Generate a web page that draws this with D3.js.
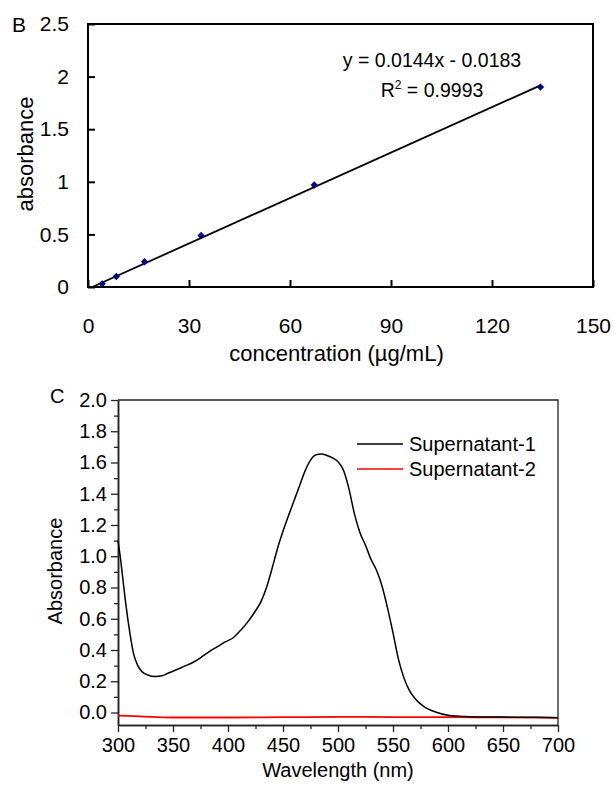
<!DOCTYPE html>
<html>
<head>
<meta charset="utf-8">
<script src="https://cdn.jsdelivr.net/npm/d3@7"></script>
<style>
  body { margin: 0; background: #fff; }
  text { font-family: "Liberation Sans", Arial, sans-serif; fill: #000; }
</style>
</head>
<body>
<div id="chart"></div>
<script>
// ---- panel B data: calibration curve ----
var concentration = [4.2, 8.4, 16.8, 33.6, 67.2, 134.4];
var absorbance = [0.03, 0.10, 0.24, 0.49, 0.97, 1.90];
var fitSlope = 0.0144;
var fitIntercept = -0.0183;
var bTicksX = [0, 30, 60, 90, 120, 150];
var bTicksY = [0, 0.5, 1, 1.5, 2, 2.5];

// ---- panel C data: spectra ----
var wavelength1 = [300, 302, 304, 307, 311, 314, 318, 322, 327, 334, 340, 345, 352, 360, 368, 375, 383, 390, 397, 405,
  412, 418, 424, 430, 435, 440, 445, 450, 455, 460, 465, 470, 475, 480, 485, 490, 495, 500, 505, 510,
  515, 520, 525, 530, 535, 540, 545, 550, 555, 560, 565, 570, 575, 580, 590, 600, 610, 620, 640, 660, 680, 700];
var supernatant1 = [1.10, 1.00, 0.88, 0.70, 0.50, 0.38, 0.30, 0.26, 0.24, 0.23, 0.235, 0.25, 0.27, 0.295, 0.32, 0.35, 0.39, 0.42, 0.45, 0.48,
  0.53, 0.58, 0.64, 0.71, 0.80, 0.92, 1.05, 1.16, 1.26, 1.355, 1.45, 1.545, 1.615, 1.65, 1.655, 1.645, 1.63, 1.605, 1.55, 1.43,
  1.27, 1.15, 1.07, 0.98, 0.91, 0.81, 0.67, 0.51, 0.34, 0.22, 0.14, 0.09, 0.055, 0.03, 0.0, -0.018, -0.024, -0.027, -0.029, -0.03, -0.031, -0.033];
var wavelength2 = [300, 320, 350, 400, 450, 500, 550, 600, 650, 700];
var supernatant2 = [-0.02, -0.025, -0.032, -0.032, -0.03, -0.028, -0.029, -0.03, -0.031, -0.034];
var cTicksX = [300, 350, 400, 450, 500, 550, 600, 650, 700];
var cMinorX = [325, 375, 425, 475, 525, 575, 625, 675];
var cTicksY = [0, 0.2, 0.4, 0.6, 0.8, 1.0, 1.2, 1.4, 1.6, 1.8, 2.0];
var cMinorY = [0.1, 0.3, 0.5, 0.7, 0.9, 1.1, 1.3, 1.5, 1.7, 1.9];
var seriesNames = ["Supernatant-1", "Supernatant-2"];
var seriesColors = ["#000000", "#ff0000"];

var svg = d3.select("#chart").append("svg")
  .attr("width", 614)
  .attr("height", 785);

// ================= panel B =================
var b = {left: 88, right: 593, top: 24, bottom: 287};
var xB = d3.scaleLinear().domain([0, 150]).range([b.left, b.right]);
var yB = d3.scaleLinear().domain([0, 2.5]).range([b.bottom, b.top]);

var gB = svg.append("g");

var xAxisB = gB.append("g")
  .attr("transform", "translate(0," + b.bottom + ")")
  .call(d3.axisBottom(xB).tickValues(bTicksX).tickSize(-7).tickSizeOuter(0).tickPadding(31)
    .tickFormat(d3.format("d")));
var yAxisB = gB.append("g")
  .attr("transform", "translate(" + b.left + ",0)")
  .call(d3.axisLeft(yB).tickValues(bTicksY).tickSize(-7).tickSizeOuter(0).tickPadding(19)
    .tickFormat(function(d) { return d; }));

[xAxisB, yAxisB].forEach(function(ax) {
  ax.select(".domain").remove();
  ax.selectAll(".tick line").attr("stroke", "#000").attr("stroke-width", 2);
  ax.selectAll("text").attr("font-size", "21px").attr("font-family", "Liberation Sans, Arial, sans-serif").attr("fill", "#000");
});

gB.append("rect")
  .attr("x", b.left).attr("y", b.top)
  .attr("width", b.right - b.left).attr("height", b.bottom - b.top)
  .attr("fill", "none").attr("stroke", "#000").attr("stroke-width", 2);

// fitted trendline
var xStart = -fitIntercept / fitSlope;
var xEnd = d3.max(concentration);
gB.append("line")
  .attr("x1", xB(xStart)).attr("y1", yB(fitSlope * xStart + fitIntercept))
  .attr("x2", xB(xEnd)).attr("y2", yB(fitSlope * xEnd + fitIntercept))
  .attr("stroke", "#000").attr("stroke-width", 1.8);

gB.selectAll(".pt").data(concentration).enter().append("rect")
  .attr("class", "pt")
  .attr("x", -2.6).attr("y", -2.6).attr("width", 5.2).attr("height", 5.2)
  .attr("fill", "#000080")
  .attr("transform", function(d, i) {
    return "translate(" + xB(d) + "," + yB(absorbance[i]) + ") rotate(45)";
  });

gB.append("text").attr("x", 432).attr("y", 67).attr("font-size", "19.5px")
  .attr("text-anchor", "middle").text("y = 0.0144x - 0.0183");
var r2 = gB.append("text").attr("x", 432).attr("y", 97).attr("font-size", "19.5px")
  .attr("text-anchor", "middle");
r2.append("tspan").text("R");
r2.append("tspan").attr("dy", -8).attr("font-size", "12px").text("2");
r2.append("tspan").attr("dy", 8).text(" = 0.9993");

gB.append("text").attr("x", 12).attr("y", 32).attr("font-size", "21px").text("B");

gB.append("text")
  .attr("x", (b.left + b.right) / 2 - 4).attr("y", 361)
  .attr("font-size", "22px").attr("text-anchor", "middle")
  .text("concentration (\u00b5g/mL)");
gB.append("text")
  .attr("transform", "translate(33," + 154 + ") rotate(-90)")
  .attr("font-size", "22px").attr("text-anchor", "middle")
  .text("absorbance");

// ================= panel C =================
var c = {left: 118, right: 558, top: 400, bottom: 725};
var xC = d3.scaleLinear().domain([300, 700]).range([c.left, c.right]);
var yC = d3.scaleLinear().domain([-0.08, 2.0]).range([c.bottom, c.top]);

var gC = svg.append("g");

gC.append("path")
  .attr("d", "M" + c.left + "," + c.top + "H" + c.right + "V" + c.bottom)
  .attr("fill", "none").attr("stroke", "#222").attr("stroke-width", 1.3);

var xAxisC = gC.append("g")
  .attr("transform", "translate(0," + c.bottom + ")")
  .call(d3.axisBottom(xC).tickValues(cTicksX).tickSize(7).tickSizeOuter(0).tickPadding(6)
    .tickFormat(d3.format("d")));
var xMinorC = gC.append("g")
  .attr("transform", "translate(0," + c.bottom + ")")
  .call(d3.axisBottom(xC).tickValues(cMinorX).tickSize(4).tickSizeOuter(0).tickFormat(""));
var yAxisC = gC.append("g")
  .attr("transform", "translate(" + c.left + ",0)")
  .call(d3.axisLeft(yC).tickValues(cTicksY).tickSize(7).tickSizeOuter(0).tickPadding(4)
    .tickFormat(d3.format(".1f")));
var yMinorC = gC.append("g")
  .attr("transform", "translate(" + c.left + ",0)")
  .call(d3.axisLeft(yC).tickValues(cMinorY).tickSize(4).tickSizeOuter(0).tickFormat(""));

[xAxisC, xMinorC, yAxisC, yMinorC].forEach(function(ax) {
  ax.select(".domain").attr("stroke", "#222").attr("stroke-width", 1.5);
  ax.selectAll(".tick line").attr("stroke", "#222").attr("stroke-width", 1.3);
  ax.selectAll("text").attr("font-size", "20px").attr("font-family", "Liberation Sans, Arial, sans-serif").attr("fill", "#000");
});

var line = d3.line()
  .x(function(d) { return xC(d[0]); })
  .y(function(d) { return yC(d[1]); })
  .curve(d3.curveMonotoneX);

gC.append("path")
  .datum(d3.zip(wavelength2, supernatant2))
  .attr("d", line)
  .attr("fill", "none").attr("stroke", seriesColors[1]).attr("stroke-width", 1.8);
gC.append("path")
  .datum(d3.zip(wavelength1, supernatant1))
  .attr("d", line)
  .attr("fill", "none").attr("stroke", seriesColors[0]).attr("stroke-width", 1.5);

// legend
seriesNames.forEach(function(name, i) {
  var row = gC.append("g").attr("transform", "translate(357," + (444 + i * 25) + ")");
  row.append("line").attr("x1", 0).attr("x2", 46)
    .attr("stroke", seriesColors[i]).attr("stroke-width", 1.5);
  row.append("text").attr("x", 52).attr("y", 7).attr("font-size", "20px").text(name);
});

gC.append("text").attr("x", 50).attr("y", 403).attr("font-size", "20px").text("C");

gC.append("text")
  .attr("x", 338).attr("y", 777)
  .attr("font-size", "20px").attr("text-anchor", "middle")
  .text("Wavelength (nm)");
gC.append("text")
  .attr("transform", "translate(62," + 571 + ") rotate(-90)")
  .attr("font-size", "20px").attr("text-anchor", "middle")
  .text("Absorbance");
</script>
</body>
</html>
